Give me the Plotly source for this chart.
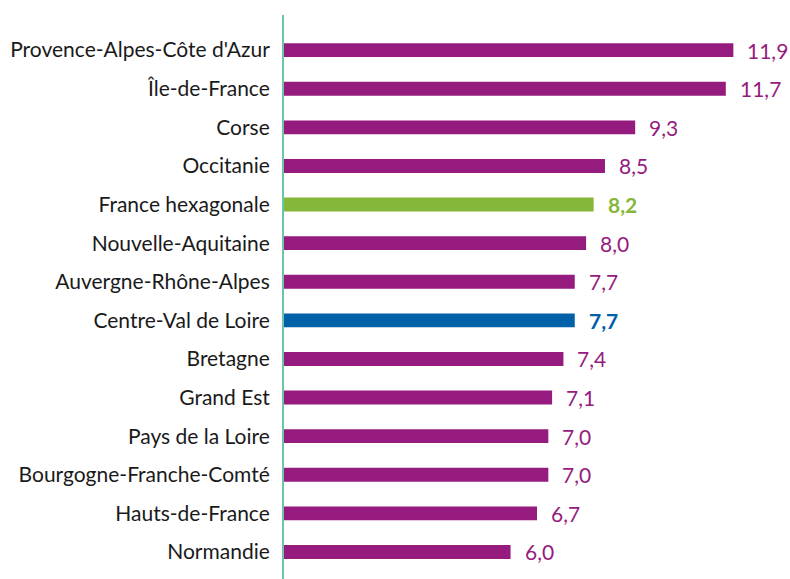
import plotly.graph_objects as go

regions = ["Provence-Alpes-Côte d'Azur", "Île-de-France", "Corse", "Occitanie",
           "France hexagonale", "Nouvelle-Aquitaine", "Auvergne-Rhône-Alpes",
           "Centre-Val de Loire", "Bretagne", "Grand Est", "Pays de la Loire",
           "Bourgogne-Franche-Comté", "Hauts-de-France", "Normandie"]
values = [11.9, 11.7, 9.3, 8.5, 8.2, 8.0, 7.7, 7.7, 7.4, 7.1, 7.0, 7.0, 6.7, 6.0]
value_labels = ["11,9", "11,7", "9,3", "8,5", "8,2", "8,0", "7,7", "7,7", "7,4",
                "7,1", "7,0", "7,0", "6,7", "6,0"]

PURPLE = "#951B7E"
GREEN = "#84B73A"
BLUE = "#0060A8"
colors = []
for r in regions:
    if r == "France hexagonale":
        colors.append(GREEN)
    elif r == "Centre-Val de Loire":
        colors.append(BLUE)
    else:
        colors.append(PURPLE)
bold = [r in ("France hexagonale", "Centre-Val de Loire") for r in regions]

FONT = "Lato"
FS = 21

fig = go.Figure(go.Bar(
    y=regions, x=values, orientation="h",
    marker=dict(color=colors, line=dict(width=0)),
    width=0.36, hoverinfo="skip",
))

for r, v, t, c, b in zip(regions, values, value_labels, colors, bold):
    fig.add_annotation(
        x=v, y=r, text=f"<b>{t}</b>" if b else t, showarrow=False,
        xanchor="left", yanchor="middle", xshift=12, yshift=0,
        font=dict(family=FONT, size=FS, color=c),
    )

fig.update_layout(
    width=790, height=579,
    margin=dict(l=284, r=0, t=15, b=0),
    paper_bgcolor="white", plot_bgcolor="white",
    showlegend=False,
    xaxis=dict(range=[0, 13.4], showgrid=False, zeroline=False,
               showticklabels=False, showline=False, fixedrange=True),
    yaxis=dict(categoryorder="array", categoryarray=regions,
               range=[13.7, -0.91], showgrid=False, zeroline=False,
               showline=True, linecolor="#6CC4A9", linewidth=2,
               ticks="", ticklabelstandoff=8, fixedrange=True,
               tickfont=dict(family=FONT, size=FS, color="#1a1a1a")),
)

fig.write_html(
    "out.html",
    config={"displayModeBar": False, "staticPlot": True},
    post_script="document.body.style.margin='0';document.body.style.overflow='hidden';",
)
